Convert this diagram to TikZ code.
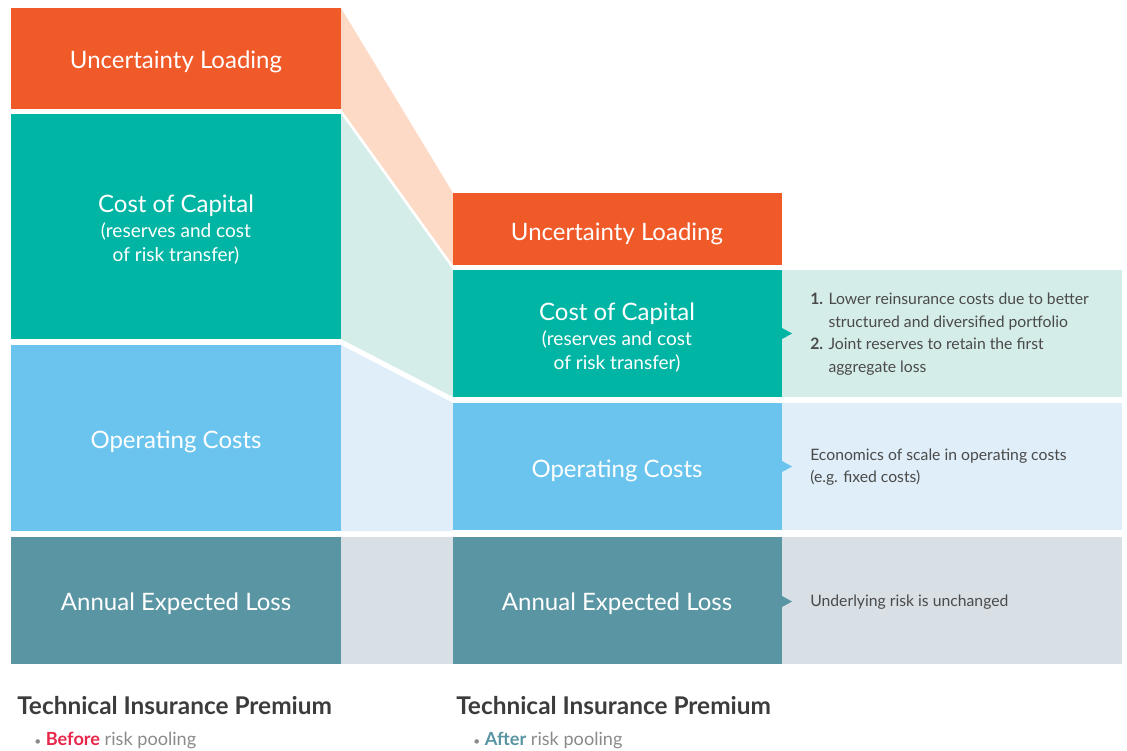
\documentclass[tikz,border=0pt]{standalone}
\usepackage{fontspec}
\setmainfont{Lato}
\definecolor{cOrange}{HTML}{F05A28}
\definecolor{cTeal}{HTML}{00B5A3}
\definecolor{cBlue}{HTML}{6AC4EE}
\definecolor{cSlate}{HTML}{5A95A3}
\definecolor{bPeach}{HTML}{FDDAC6}
\definecolor{bTeal}{HTML}{D4EDE8}
\definecolor{bBlue}{HTML}{DFEEF8}
\definecolor{bGray}{HTML}{D8E0E6}
\definecolor{tDark}{HTML}{3C3C3C}
\definecolor{tGray}{HTML}{8A8A8A}
\definecolor{tRed}{HTML}{E8264A}
\definecolor{tPanel}{HTML}{4A4A4A}
\begin{document}
\begin{tikzpicture}[x=0.75pt,y=-0.75pt,
  boxlabel/.style={text=white,font=\fontsize{18}{22}\selectfont,align=center,inner sep=0pt},
  sublabel/.style={text=white,font=\fontsize{14.3}{18}\selectfont,align=center,inner sep=0pt},
  paneltext/.style={text=tPanel,font=\fontsize{11.8}{17}\selectfont,align=left,anchor=west,inner sep=0pt},
  title/.style={text=tDark,font=\bfseries\fontsize{18.3}{20}\selectfont,anchor=west,inner sep=0pt},
  subtitle/.style={text=tGray,font=\fontsize{13.6}{16}\selectfont,anchor=west,inner sep=0pt}]
\useasboundingbox (0,0) rectangle (1127,750);
% bands
\fill[bPeach] (341,8) -- (453,193) -- (453,265) -- (341,109) -- cycle;
\fill[bTeal] (341,114) -- (453,270) -- (453,397) -- (341,339) -- cycle;
\fill[bBlue] (341,345) -- (453,403) -- (453,531) -- (341,531) -- cycle;
\fill[bGray] (341,537) rectangle (453,664);
% right panels
\fill[bTeal] (782,270) rectangle (1122,397);
\fill[bBlue] (782,403) rectangle (1122,530);
\fill[bGray] (782,537) rectangle (1122,664);
% left boxes
\fill[cOrange] (11,8) rectangle (341,109);
\fill[cTeal] (11,114) rectangle (341,339);
\fill[cBlue] (11,345) rectangle (341,531);
\fill[cSlate] (11,537) rectangle (341,664);
% right boxes
\fill[cOrange] (453,193) rectangle (782,265);
\fill[cTeal] (453,270) rectangle (782,397);
\fill[cBlue] (453,403) rectangle (782,530);
\fill[cSlate] (453,537) rectangle (782,664);
% arrow tips
\fill[cTeal] (782,328) -- (792,333.5) -- (782,339) -- cycle;
\fill[cBlue] (782,461) -- (792,466.5) -- (782,472) -- cycle;
\fill[cSlate] (782,596) -- (792,601.5) -- (782,607) -- cycle;
% left labels
\node[boxlabel] (lu) at (176,62) {Uncertainty Loading};
\node[boxlabel] (lc) at (176,206) {Cost of Capital};
\node[sublabel] (lcs) at (176,243) {(reserves and cost\\of risk transfer)};
\node[boxlabel] (lo) at (176,442) {Operating Costs};
\node[boxlabel] (la) at (176,604) {Annual Expected Loss};
% right labels
\node[boxlabel] (ru) at (617,234) {Uncertainty Loading};
\node[boxlabel] (rc) at (617,314) {Cost of Capital};
\node[sublabel] (rcs) at (617,351) {(reserves and cost\\of risk transfer)};
\node[boxlabel] (ro) at (617,471) {Operating Costs};
\node[boxlabel] (ra) at (617,604) {Annual Expected Loss};
% panel texts
\node[paneltext] (p1) at (810,334) {\textbf{1.} Lower reinsurance costs due to better\\
\hphantom{\textbf{1.} }structured and diversified portfolio\\
\textbf{2.} Joint reserves to retain the first\\
\hphantom{\textbf{2.} }aggregate loss};
\node[paneltext] (p2) at (810,467) {Economics of scale in operating costs\\(e.g. fixed costs)};
\node[paneltext] (p3) at (810,602) {Underlying risk is unchanged};
% bottom titles
\node[title] (t1) at (17,706) {Technical Insurance Premium};
\node[subtitle] (s1) at (34,740) {{\fontsize{9}{10}\selectfont•} \textcolor{tRed}{\textbf{Before}} risk pooling};
\node[title] (t2) at (456,706) {Technical Insurance Premium};
\node[subtitle] (s2) at (473,740) {{\fontsize{9}{10}\selectfont•} \textcolor{cSlate}{\textbf{After}} risk pooling};
\end{tikzpicture}
\end{document}
